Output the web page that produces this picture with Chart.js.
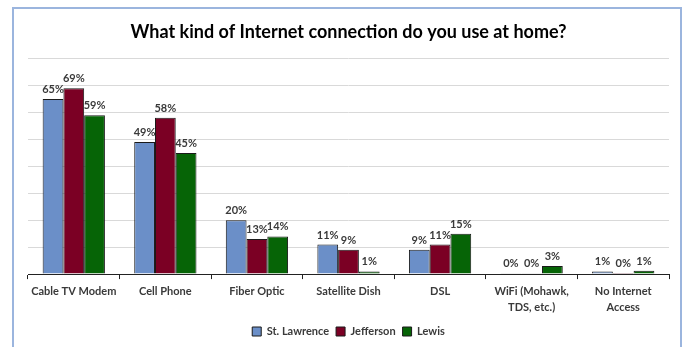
<!DOCTYPE html>
<html>
<head>
<meta charset="utf-8">
<script src="https://cdn.jsdelivr.net/npm/chart.js@4.4.1/dist/chart.umd.min.js"></script>
<style>
  html, body { margin: 0; padding: 0; background: #fff; }
  #wrap { position: relative; width: 686px; height: 347px; }
  #frame { position: absolute; left: 12px; top: 7px; width: 670px; height: 350px;
           border: 2px solid #9bb5de; box-sizing: border-box; }
  canvas { position: absolute; left: 0; top: 0; }
</style>
</head>
<body>
<div id="wrap">
  <div id="frame"></div>
  <canvas id="chart" width="686" height="347"></canvas>
</div>
<script>
  // survey answers, percent of respondents
  const categories = [
    'Cable TV Modem',
    'Cell Phone',
    'Fiber Optic',
    'Satellite Dish',
    'DSL',
    ['WiFi (Mohawk,', 'TDS, etc.)'],
    ['No Internet', 'Access']
  ];
  const stLawrence = [65, 49, 20, 11, 9, 0.3, 1];
  const jefferson  = [69, 58, 13, 9, 11, 0.3, 0.4];
  const lewis      = [59, 45, 14, 1, 15, 3, 1.2];
  const yTicks = [0, 10, 20, 30, 40, 50, 60, 70, 80];

  const FONT = 'Lato, "Open Sans", "DejaVu Sans", sans-serif';

  // draws the % label above each bar
  const valueLabels = {
    id: 'valueLabels',
    afterDatasetsDraw(chart) {
      const ctx = chart.ctx;
      ctx.save();
      ctx.font = 'bold 11px ' + FONT;
      ctx.fillStyle = '#3a3a3a';
      ctx.textAlign = 'center';
      ctx.textBaseline = 'bottom';
      chart.data.datasets.forEach((ds, i) => {
        const meta = chart.getDatasetMeta(i);
        meta.data.forEach((bar, j) => {
          ctx.fillText(Math.round(ds.data[j]) + '%', bar.x, bar.y - 4);
        });
      });
      ctx.restore();
    }
  };

  function makeDataset(label, data, color) {
    return {
      label: label,
      data: data,
      backgroundColor: color,
      borderColor: '#1a1a1a',
      borderWidth: 1,
      barPercentage: 1.0,
      categoryPercentage: 0.68
    };
  }

  new Chart(document.getElementById('chart').getContext('2d'), {
    type: 'bar',
    data: {
      labels: categories,
      datasets: [
        makeDataset('St. Lawrence', stLawrence, '#6b8fc8'),
        makeDataset('Jefferson', jefferson, '#7b0024'),
        makeDataset('Lewis', lewis, '#066406')
      ]
    },
    options: {
      responsive: false,
      animation: false,
      layout: { padding: { left: 28, right: 17, top: 0, bottom: 0 } },
      plugins: {
        title: {
          display: true,
          text: 'What kind of Internet connection do you use at home?',
          color: '#000',
          font: { family: FONT, size: 18, weight: 'bold' },
          padding: { top: 21, bottom: 16 }
        },
        legend: {
          position: 'bottom',
          labels: {
            boxWidth: 9,
            boxHeight: 9,
            padding: 7,
            color: '#3a3a3a',
            font: { family: FONT, size: 11, weight: 'bold' }
          }
        },
        tooltip: { enabled: false }
      },
      scales: {
        x: {
          grid: { display: true, drawOnChartArea: false, drawTicks: true, tickLength: 5, color: '#222' },
          border: { display: true, color: '#222', width: 1 },
          ticks: {
            color: '#3a3a3a',
            padding: 4,
            maxRotation: 0,
            autoSkip: false,
            font: { family: FONT, size: 11, weight: 'bold', lineHeight: 1.45 }
          }
        },
        y: {
          min: yTicks[0],
          max: yTicks[yTicks.length - 1],
          afterBuildTicks(axis) { axis.ticks = yTicks.map(v => ({ value: v })); },
          grid: { color: '#d9d9d9', drawTicks: false },
          border: { display: false },
          ticks: { display: false }
        }
      }
    },
    plugins: [valueLabels]
  });
</script>
</body>
</html>
